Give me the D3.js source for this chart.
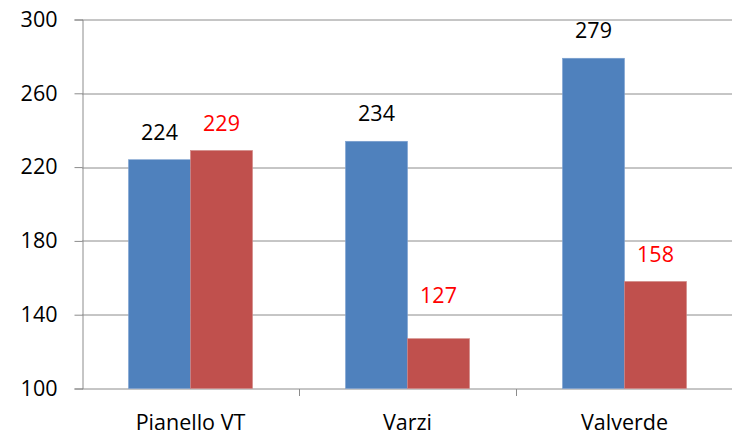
<!DOCTYPE html>
<html>
<head>
<meta charset="utf-8">
<script src="https://cdn.jsdelivr.net/npm/d3@7"></script>
<style>
  body { margin: 0; background: #fff; }
  text { font-family: 'Open Sans', sans-serif; }
</style>
</head>
<body>
<svg id="chart" width="732" height="435"></svg>
<script>
const categories = ['Pianello VT', 'Varzi', 'Valverde'];
const seriesA = [224, 234, 279];
const seriesB = [229, 127, 158];
const yTicks = [100, 140, 180, 220, 260, 300];

const margin = { top: 19.5, right: -1, bottom: 46.5, left: 82 };
const width = 732 - margin.left - margin.right;
const height = 435 - margin.top - margin.bottom;
const fontSize = 21.5;

const svg = d3.select('#chart');
const g = svg.append('g')
  .attr('transform', `translate(${margin.left},${margin.top})`);

const x = d3.scaleBand()
  .domain(categories)
  .range([0, width])
  .paddingInner(0)
  .paddingOuter(0);

// two bars + 150% gap per category
const xInner = d3.scaleBand()
  .domain(['a', 'b'])
  .range([0, x.bandwidth()])
  .paddingOuter(0.75)
  .paddingInner(0);

const y = d3.scaleLinear()
  .domain([100, 300])
  .range([height, 0]);

// gridlines
g.append('g')
  .selectAll('line')
  .data(yTicks.slice(1))
  .enter()
  .append('line')
  .attr('x1', 0)
  .attr('x2', width)
  .attr('y1', (d) => Math.round(y(d)) + 0.5)
  .attr('y2', (d) => Math.round(y(d)) + 0.5)
  .attr('stroke', '#8c8c8c')
  .attr('stroke-width', 1);

// y axis
const yAxis = g.append('g')
  .attr('transform', 'translate(0.5,0)')
  .call(d3.axisLeft(y).tickValues(yTicks).tickSize(8).tickPadding(17).tickFormat(d3.format('d')));
yAxis.select('.domain').attr('stroke', '#8c8c8c');
yAxis.selectAll('.tick line').attr('stroke', '#8c8c8c');
yAxis.selectAll('.tick text')
  .attr('font-size', fontSize)
  .attr('fill', '#000')
  .style('font-family', "'Open Sans', sans-serif");

// x axis: ticks at category boundaries
const xAxisG = g.append('g')
  .attr('transform', `translate(0,${Math.round(height) + 0.5})`);
xAxisG.append('line')
  .attr('x1', 0)
  .attr('x2', width)
  .attr('stroke', '#8c8c8c');
xAxisG.selectAll('line.tk')
  .data(categories.slice(1))
  .enter()
  .append('line')
  .attr('class', 'tk')
  .attr('x1', (d) => Math.round(x(d)) + 0.5)
  .attr('x2', (d) => Math.round(x(d)) + 0.5)
  .attr('y1', 0)
  .attr('y2', 7)
  .attr('stroke', '#8c8c8c');
xAxisG.selectAll('text')
  .data(categories)
  .enter()
  .append('text')
  .attr('x', (d) => x(d) + x.bandwidth() / 2)
  .attr('y', 41)
  .attr('text-anchor', 'middle')
  .attr('font-size', fontSize)
  .attr('fill', '#000')
  .text((d) => d);

// bars
const groups = g.selectAll('g.cat')
  .data(categories)
  .enter()
  .append('g')
  .attr('class', 'cat')
  .attr('transform', (d) => `translate(${x(d)},0)`);

groups.append('rect')
  .attr('x', xInner('a'))
  .attr('width', xInner.bandwidth())
  .attr('y', (d, i) => y(seriesA[i]))
  .attr('height', (d, i) => y(100) - y(seriesA[i]))
  .attr('fill', '#4f81bd')
  .attr('stroke', '#7da1d0')
  .attr('stroke-width', 0.6);

groups.append('rect')
  .attr('x', xInner('b'))
  .attr('width', xInner.bandwidth())
  .attr('y', (d, i) => y(seriesB[i]))
  .attr('height', (d, i) => y(100) - y(seriesB[i]))
  .attr('fill', '#c0504d')
  .attr('stroke', '#d08684')
  .attr('stroke-width', 0.6);

// value labels (the 127 label sits higher in the original)
const extraLift = { Varzi: 17 };

groups.append('text')
  .attr('x', xInner('a') + xInner.bandwidth() / 2)
  .attr('y', (d, i) => y(seriesA[i]) - 20)
  .attr('text-anchor', 'middle')
  .attr('font-size', fontSize)
  .attr('fill', '#000')
  .text((d, i) => seriesA[i]);

groups.append('text')
  .attr('x', xInner('b') + xInner.bandwidth() / 2)
  .attr('y', (d, i) => y(seriesB[i]) - 19 - (extraLift[d] || 0))
  .attr('text-anchor', 'middle')
  .attr('font-size', fontSize)
  .attr('fill', '#ff0000')
  .text((d, i) => seriesB[i]);
</script>
</body>
</html>
